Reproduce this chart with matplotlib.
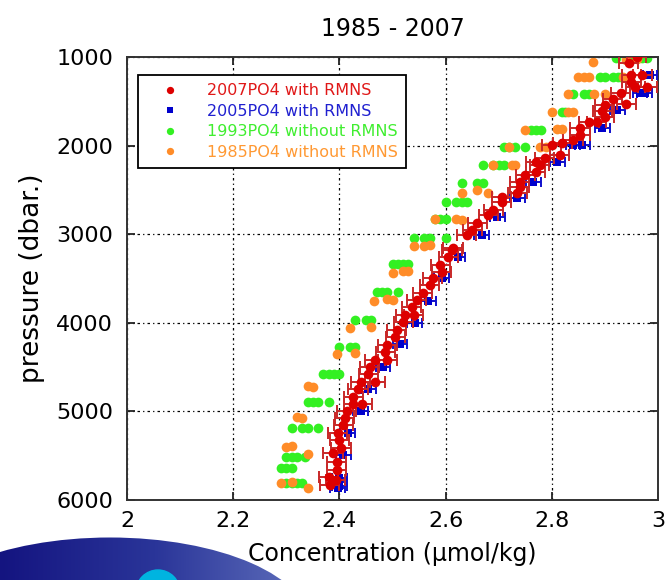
import numpy as np
import matplotlib
matplotlib.use("Agg")
import matplotlib.pyplot as plt
from matplotlib.patches import Ellipse, Circle

# 2007 PO4 (with RMNS) - concentration / pressure
c2007 = [2.96, 2.945, 2.95, 2.97, 2.95, 2.957, 2.98, 2.93, 2.915, 2.94, 2.90, 2.895, 2.90,
         2.885, 2.87, 2.853, 2.853, 2.84, 2.82, 2.80, 2.815, 2.787, 2.77, 2.777, 2.77, 2.75,
         2.74, 2.74, 2.735, 2.706, 2.706, 2.69, 2.68, 2.66, 2.65, 2.64, 2.614, 2.612, 2.605,
         2.59, 2.593, 2.576, 2.57, 2.557, 2.546, 2.536, 2.524, 2.54, 2.52, 2.508, 2.505, 2.49,
         2.486, 2.467, 2.49, 2.457, 2.454, 2.44, 2.467, 2.435, 2.426, 2.426, 2.443, 2.414,
         2.41, 2.407, 2.397, 2.40, 2.403, 2.388, 2.395, 2.395, 2.38, 2.393, 2.382]
p2007 = [1000, 1070, 1200, 1200, 1280, 1340, 1340, 1406, 1474, 1530, 1540, 1610, 1677,
         1734, 1734, 1801, 1880, 1937, 1970, 1993, 2106, 2140, 2185, 2219, 2298, 2332,
         2411, 2467, 2535, 2580, 2636, 2727, 2783, 2873, 2953, 3009, 3156, 3178, 3257,
         3348, 3427, 3494, 3573, 3664, 3743, 3822, 3912, 3912, 3990, 4081, 4160, 4250,
         4330, 4420, 4420, 4500, 4578, 4668, 4668, 4747, 4837, 4917, 4917, 4996,
         5074, 5153, 5244, 5323, 5413, 5470, 5571, 5661, 5740, 5774, 5830]
err2007 = 0.018

# 2005 PO4 (with RMNS)
c2005 = [2.985, 2.966, 2.975, 2.923, 2.895, 2.84, 2.857, 2.81, 2.765, 2.735, 2.697, 2.668,
         2.623, 2.593, 2.567, 2.542, 2.514, 2.482, 2.454, 2.44, 2.416, 2.407, 2.40, 2.40,
         2.397, 2.40]
p2005 = [1200, 1406, 1406, 1598, 1801, 1993, 1993, 2185, 2411, 2592, 2806, 3009,
         3257, 3494, 3754, 4002, 4239, 4500, 4747, 4996, 5244, 5492, 5752, 5800,
         5864, 5840]
err2005 = 0.014

# 1993 PO4 (without RMNS)
c1993 = [2.92, 2.95, 2.96, 2.97, 2.98, 2.89, 2.90, 2.915, 2.925, 2.93, 2.84, 2.86, 2.87,
         2.82, 2.825, 2.76, 2.77, 2.78, 2.71, 2.72, 2.73, 2.75, 2.67, 2.69, 2.70, 2.71,
         2.63, 2.66, 2.67, 2.60, 2.62, 2.63, 2.64, 2.58, 2.59, 2.60, 2.54, 2.56, 2.57, 2.60,
         2.50, 2.51, 2.52, 2.53, 2.47, 2.48, 2.49, 2.51, 2.43, 2.45, 2.46, 2.40, 2.42, 2.43,
         2.37, 2.38, 2.39, 2.40, 2.34, 2.35, 2.36, 2.38, 2.31, 2.33, 2.34, 2.36,
         2.30, 2.31, 2.32, 2.335, 2.29, 2.30, 2.31, 2.30, 2.31, 2.32, 2.33]
p1993 = [1010, 1010, 1010, 1010, 1010, 1226, 1226, 1226, 1226, 1226, 1418, 1418, 1418,
         1620, 1620, 1824, 1824, 1824, 2016, 2016, 2016, 2016, 2219, 2219, 2219, 2219,
         2422, 2422, 2422, 2636, 2636, 2636, 2636, 2828, 2828, 2828, 3043, 3043, 3043, 3043,
         3336, 3336, 3336, 3336, 3652, 3652, 3652, 3652, 3968, 3968, 3968, 4273, 4273, 4273,
         4578, 4578, 4578, 4578, 4894, 4894, 4894, 4894, 5187, 5187, 5187, 5187,
         5515, 5515, 5515, 5515, 5640, 5640, 5640, 5808, 5808, 5808, 5808]

# 1985 PO4 (without RMNS)
c1985 = [2.877, 2.94, 2.96, 2.85, 2.86, 2.87, 2.935, 2.83, 2.88, 2.90, 2.80, 2.83, 2.84,
         2.75, 2.81, 2.82, 2.72, 2.777, 2.79, 2.69, 2.725, 2.73, 2.63, 2.66, 2.68,
         2.58, 2.62, 2.63, 2.54, 2.56, 2.57, 2.50, 2.52, 2.53, 2.465, 2.49, 2.50,
         2.42, 2.46, 2.395, 2.43, 2.34, 2.35, 2.32, 2.33, 2.30, 2.31, 2.34, 2.29, 2.31, 2.34]
p1985 = [1056, 1030, 1020, 1226, 1226, 1226, 1226, 1418, 1418, 1418, 1620, 1620, 1620,
         1824, 1810, 1810, 2016, 2016, 2016, 2219, 2219, 2219, 2535, 2500, 2535,
         2828, 2828, 2840, 3133, 3133, 3120, 3438, 3420, 3410, 3754, 3731, 3740,
         4060, 4050, 4352, 4340, 4710, 4720, 5060, 5075, 5400, 5390, 5480, 5808, 5800, 5864]

labels = ["2007PO4 with RMNS", "2005PO4 with RMNS", "1993PO4 without RMNS", "1985PO4 without RMNS"]
colors = ["#dd0000", "#0000cc", "#33f022", "#ff8c28"]
text_colors = ["#e01818", "#2020d0", "#40ee30", "#ff9933"]

xticks = [2, 2.2, 2.4, 2.6, 2.8, 3]
xticklabels = ["2", "2.2", "2.4", "2.6", "2.8", "3"]
yticks = [1000, 2000, 3000, 4000, 5000, 6000]

fig = plt.figure(figsize=(6.7, 5.8), dpi=100)

# logo swoosh at bottom left
lax = fig.add_axes([0, 0, 0.5, 0.08], zorder=0)
lax.set_xlim(0, 335)
lax.set_ylim(0, 46.4)
lax.axis("off")
grad = np.linspace(0, 1, 256).reshape(1, -1)
cmap = matplotlib.colors.LinearSegmentedColormap.from_list("sw", ["#141480", "#2a3599", "#6070bc"])
im = lax.imshow(grad, extent=[0, 310, -140, 50], aspect="auto", cmap=cmap)
ell = Ellipse((110, -45), 400, 175, transform=lax.transData)
im.set_clip_path(ell)
lax.add_patch(Circle((158, -12), 22, color="#00b4e0"))

ax = fig.add_axes([127 / 670, 80 / 580, 531 / 670, 443 / 580], zorder=1)

h_g, = ax.plot(c1993, p1993, "o", color=colors[2], ms=7, mew=0, zorder=2)
h_o, = ax.plot(c1985, p1985, "o", color=colors[3], ms=7, mew=0, zorder=2)
ax.errorbar(c2005, p2005, xerr=err2005, fmt="none", ecolor="#1010cc", elinewidth=1.4,
            capsize=3.5, capthick=1.4, zorder=3)
h_b, = ax.plot(c2005, p2005, "s", color=colors[1], ms=6, mew=0, zorder=3)
ax.errorbar(c2007, p2007, xerr=err2007, fmt="none", ecolor="#c82828", elinewidth=1.4,
            capsize=4, capthick=1.4, zorder=4)
h_r, = ax.plot(c2007, p2007, "o", color=colors[0], ms=7, mew=0, zorder=4)

ax.set_xlim(2, 3)
ax.set_ylim(6000, 1000)
ax.set_xticks(xticks)
ax.set_xticklabels(xticklabels)
ax.set_yticks(yticks)
ax.tick_params(direction="in", top=True, right=True, length=6, width=1.3, labelsize=16,
               color="#222222")
ax.tick_params(axis="x", pad=8)
ax.tick_params(axis="y", pad=10)
ax.grid(True, color="black", linestyle=(0, (2, 2.5, 1, 2.5)), linewidth=0.9)
ax.set_axisbelow(True)
for s in ax.spines.values():
    s.set_color("#333333")
    s.set_linewidth(1.4)

ax.set_title("1985 - 2007", fontsize=17, pad=15)
ax.set_xlabel("Concentration (\u03bcmol/kg)", fontsize=17, labelpad=8)
ax.set_ylabel("pressure (dbar.)", fontsize=19, labelpad=8)

leg = ax.legend([h_r, h_b, h_g, h_o], labels, loc="upper left", bbox_to_anchor=(0.021, 0.959),
                borderaxespad=0, fontsize=11.5, handlelength=3, handletextpad=0.8,
                borderpad=0.5, labelspacing=0.35, fancybox=False, framealpha=1,
                markerscale=0.75)
leg.get_frame().set_edgecolor("black")
leg.get_frame().set_linewidth(1.3)
for t, c in zip(leg.get_texts(), text_colors):
    t.set_color(c)

fig.savefig("out.png", dpi=100)
